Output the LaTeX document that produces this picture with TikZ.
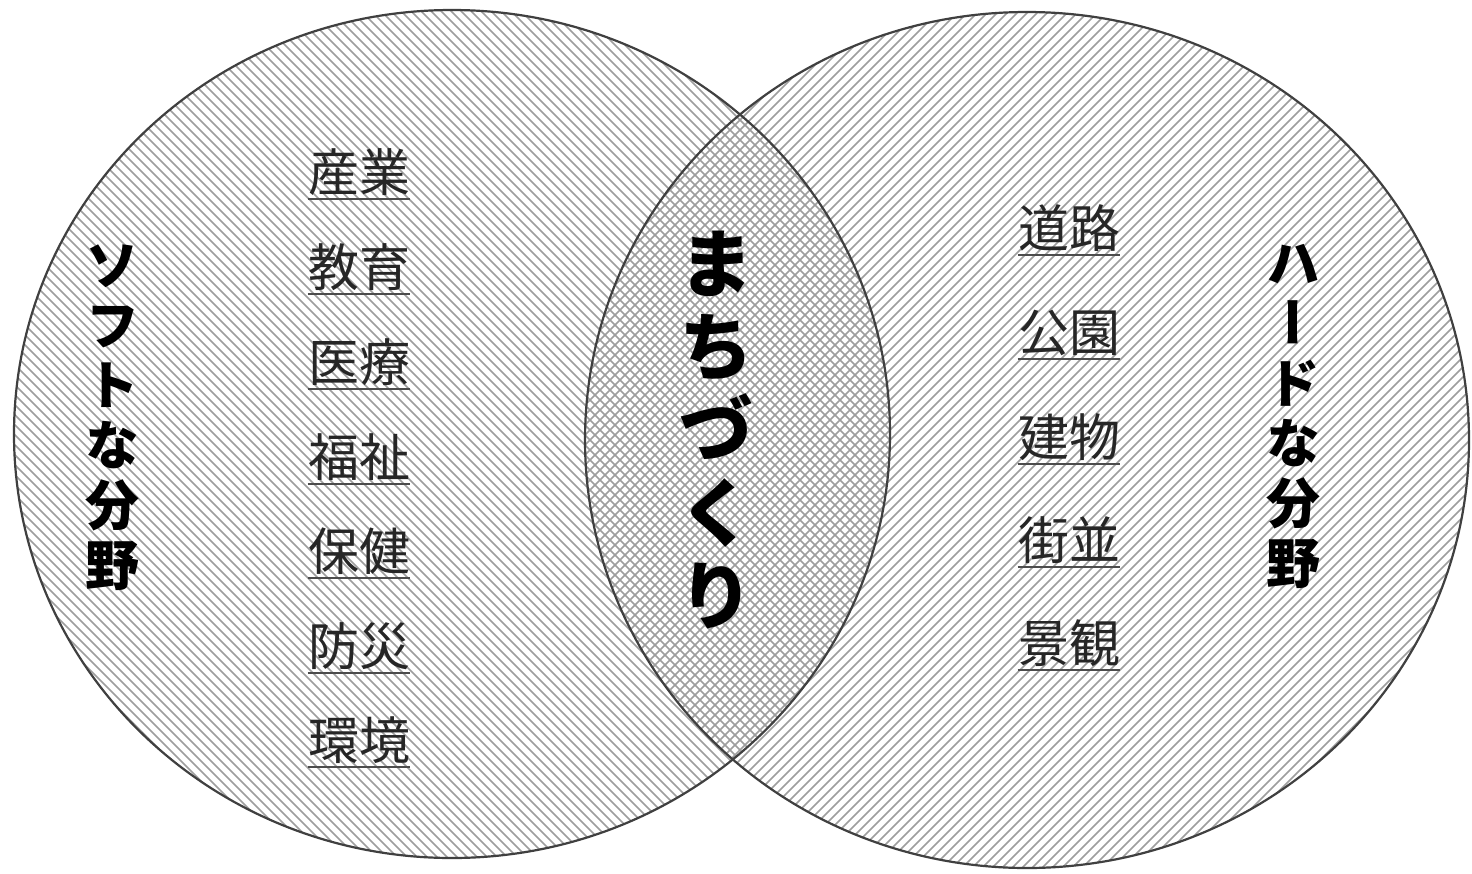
\documentclass[tikz,border=0pt]{standalone}
\usepackage{fontspec}
\newfontfamily\jp{Noto Sans CJK JP}
\newfontfamily\jpv[RawFeature=+vert]{Noto Sans CJK JP}
\begin{document}
\begin{tikzpicture}[x=0.5pt,y=-0.5pt,
  hatch/.style={draw=black!38, line width=0.85pt},
  ring/.style={draw=black!75, line width=1.1pt},
  item/.style={font=\jp\fontsize{25.5}{26}\selectfont, inner sep=0pt, text=black!85},
  uline/.style={draw=black!70, line width=0.9pt},
  sidelabel/.style={font=\jpv\bfseries\fontsize{27}{30}\selectfont, align=center, inner sep=0pt},
  mainlabel/.style={font=\jp\bfseries\fontsize{37}{41.5}\selectfont, align=center, inner sep=0pt}]
\useasboundingbox (0,0) rectangle (1472,873);
\fill[white] (0,0) rectangle (1472,873);
% left circle hatching
\begin{scope}
  \clip (452,434) ellipse [x radius=219pt, y radius=212pt];
  \foreach \a in {-900,-890,...,1500} \draw[hatch] (\a,0) -- ++(900,900);
\end{scope}
% right circle hatching
\begin{scope}
  \clip (1027,440) ellipse [x radius=221pt, y radius=214pt];
  \foreach \a in {580,590,...,2500} \draw[hatch] (\a,0) -- ++(-900,900);
\end{scope}
\draw[ring] (452,434) ellipse [x radius=219pt, y radius=212pt];
\draw[ring] (1027,440) ellipse [x radius=221pt, y radius=214pt];
% labels
\node[sidelabel] (soft) at (112,418) {ソ\\フ\\ト\\な\\分\\野};
\node[sidelabel] (hard) at (1293,416) {ハ\\ー\\ド\\な\\分\\野};
\node[mainlabel] (machi) at (716,430) {ま\\ち\\づ\\く\\り};
% left list
\foreach \t/\y [count=\i] in {産業/172,教育/267,医療/362,福祉/457,保健/551,防災/646,環境/740}{
  \node[item] (L\i) at (359,\y) {\t};
  \draw[uline] ([yshift=-1.5pt]L\i.south west) -- ([yshift=-1.5pt]L\i.south east);
}
% right list
\foreach \t/\y [count=\i] in {道路/228,公園/333,建物/437,街並/540,景観/643}{
  \node[item] (R\i) at (1069,\y) {\t};
  \draw[uline] ([yshift=-1.5pt]R\i.south west) -- ([yshift=-1.5pt]R\i.south east);
}
\end{tikzpicture}
\end{document}
